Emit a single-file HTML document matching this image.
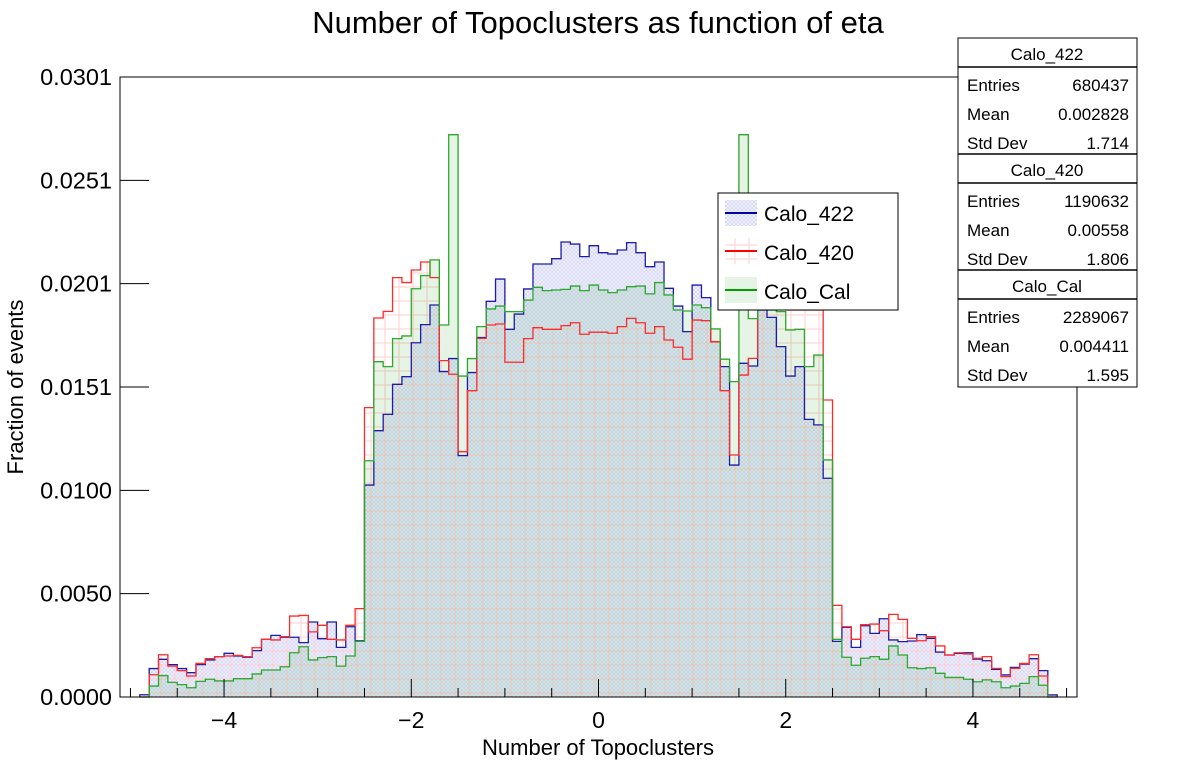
<!DOCTYPE html>
<html><head><meta charset="utf-8"><style>
body{margin:0;background:#fff;}
svg{display:block;font-family:"Liberation Sans",sans-serif;}
</style></head><body>
<svg id="c" width="1198" height="775" viewBox="0 0 1198 775">
<defs>
<pattern id="pb" width="4" height="4" patternUnits="userSpaceOnUse"><rect width="4" height="4" fill="#f4f4ff"/><path d="M0 0L4 4M4 0L0 4" stroke="#c8c8f4" stroke-width="0.6"/></pattern>
<pattern id="pr" width="14" height="14" patternUnits="userSpaceOnUse"><path d="M7 0V14M0 7H14" stroke="#ffcfcf" stroke-width="1"/></pattern>
</defs>
<text x="598" y="33" font-size="31" text-anchor="middle">Number of Topoclusters as function of eta</text>
<text x="598" y="755" font-size="22" text-anchor="middle">Number of Topoclusters</text>
<text transform="translate(23,387) rotate(-90)" font-size="22" text-anchor="middle">Fraction of events</text>
<g id="plot"></g>
<g id="axes"></g>
<g>
<rect x="718" y="193" width="180" height="117" fill="#fff" stroke="#000" stroke-width="1"/>
<rect x="725" y="200" width="32" height="26" fill="url(#pb)"/><line x1="725" y1="213" x2="757" y2="213" stroke="#00009c" stroke-width="2"/>
<text x="764" y="221" font-size="21">Calo_422</text>
<rect x="725" y="238" width="32" height="26" fill="url(#pr)"/><line x1="725" y1="251" x2="757" y2="251" stroke="#ff0000" stroke-width="2"/>
<text x="764" y="260" font-size="21">Calo_420</text>
<rect x="725" y="277" width="32" height="26" fill="#e6f4e6"/><line x1="725" y1="290" x2="757" y2="290" stroke="#00a000" stroke-width="2"/>
<text x="764" y="299" font-size="21">Calo_Cal</text>
</g>
<g id="stats"></g>
</svg>
<script>
const xMin=-4.9, binW=0.1;
const blueVals=[0.00011,0.00138,0.00183,0.00157,0.00138,0.00118,0.00157,0.00180,0.00196,0.00212,0.00199,0.00193,0.00225,0.00280,0.00299,0.00290,0.00290,0.00264,0.00364,0.00283,0.00364,0.00241,0.00341,0.00273,
0.01029,0.01293,0.01372,0.01518,0.01555,0.01720,0.01808,0.01903,0.01580,0.01643,0.01172,0.01575,0.01745,0.01921,0.02029,0.01785,0.01859,0.01981,0.02102,0.02102,0.02128,0.02209,0.02199,0.02138,0.02191,
0.02157,0.02151,0.02170,0.02206,0.02157,0.02089,0.02112,0.01984,0.01898,0.01774,0.02000,0.01939,0.01725,0.01604,0.01126,0.01620,0.01607,0.01879,0.01843,0.01701,0.01558,0.01604,0.01348,0.01321,0.01062,
0.00270,0.00338,0.00241,0.00346,0.00309,0.00380,0.00277,0.00269,0.00272,0.00303,0.00285,0.00218,0.00204,0.00212,0.00215,0.00184,0.00176,0.00134,0.00107,0.00144,0.00160,0.00186,0.00128,0.0001];
const redVals=[0,0.00108,0.00205,0.00150,0.00128,0.00102,0.00163,0.00186,0.00196,0.00199,0.00202,0.00196,0.00239,0.00280,0.00277,0.00293,0.00393,0.00396,0.00316,0.00348,0.00280,0.00277,0.00348,0.00429,
0.01405,0.01840,0.01872,0.02036,0.02012,0.02073,0.02112,0.02036,0.01633,0.01567,0.01191,0.01487,0.01741,0.01806,0.01811,0.01625,0.01625,0.01740,0.01793,0.01785,0.01785,0.01803,0.01817,0.01761,0.01771,
0.01771,0.01766,0.01798,0.01838,0.01817,0.01766,0.01798,0.01733,0.01698,0.01640,0.01830,0.01827,0.01725,0.01487,0.01175,0.01563,0.01644,0.01944,0.01895,0.01887,0.01879,0.01879,0.01879,0.01879,0.01442,
0.00445,0.00341,0.00280,0.00351,0.00354,0.00322,0.00401,0.00377,0.00285,0.00273,0.00293,0.00248,0.00204,0.00215,0.00209,0.00188,0.00196,0.00139,0.00099,0.00139,0.00163,0.00205,0.00102,0];
const greenVals=[0,0.00053,0.00104,0.00071,0.00060,0.00045,0.00076,0.00086,0.00078,0.00078,0.00089,0.00089,0.00112,0.00131,0.00131,0.00147,0.00215,0.00244,0.00180,0.00191,0.00196,0.00150,0.00199,0.00270,
0.01147,0.01628,0.01604,0.01740,0.01753,0.01982,0.02046,0.02122,0.01806,0.0273,0.01558,0.01643,0.01798,0.01884,0.01898,0.01871,0.01871,0.01927,0.01989,0.01973,0.01976,0.01979,0.01995,0.01973,0.02000,
0.01976,0.01963,0.01976,0.01992,0.01995,0.01957,0.02012,0.01952,0.01879,0.01874,0.01903,0.01890,0.01787,0.01640,0.01531,0.0273,0.01837,0.01895,0.01879,0.01871,0.01782,0.01785,0.01604,0.01660,0.01151,
0.00280,0.00193,0.00154,0.00188,0.00196,0.00183,0.00248,0.00204,0.00142,0.00138,0.00142,0.00115,0.00095,0.00095,0.00086,0.00074,0.00083,0.00074,0.00045,0.00053,0.00066,0.00099,0.00057,0];
const xTicks=[-4,-2,0,2,4];
const yTicks=[0,0.00502,0.01003,0.01505,0.02007,0.02508,0.0301];
const yTickLabels=["0.0000","0.0050","0.0100","0.0151","0.0201","0.0251","0.0301"];

const L=120,R=1077,T=77,B=697, X0=-5.1115, X1=5.1115, YMAX=0.0301;
const sx=v=>L+(v-X0)/(X1-X0)*(R-L);
const sy=v=>B-v/YMAX*(B-T);
const NS="http://www.w3.org/2000/svg";
const plot=document.getElementById('plot'), axes=document.getElementById('axes'), stats=document.getElementById('stats');
function mk(tag,attrs,parent){const e=document.createElementNS(NS,tag);for(const k in attrs)e.setAttribute(k,attrs[k]);parent.appendChild(e);return e;}
function stepPath(vals,closed){
  let d='M'+sx(xMin)+' '+sy(0);
  vals.forEach((v,i)=>{const a=sx(xMin+i*binW),b=sx(xMin+(i+1)*binW);d+=' L'+a+' '+sy(v)+' L'+b+' '+sy(v);});
  d+=' L'+sx(xMin+vals.length*binW)+' '+sy(0);
  if(closed)d+=' Z';
  return d;
}
mk('rect',{x:L,y:T,width:R-L,height:B-T,fill:'#fff',stroke:'none'},plot);
const series=[[blueVals,'url(#pb)','#1c1ca8','blue'],[redVals,'url(#pr)','#ff2a2a','red'],[greenVals,'rgba(0,150,0,0.1)','#2ca82c','green']];
series.forEach(s=>{
  const f=mk('path',{d:stepPath(s[0],true),fill:s[1],stroke:'none'},plot);
  
  
});
series.forEach(s=>{
  const l=mk('path',{d:stepPath(s[0],false),fill:'none',stroke:s[2],'stroke-width':1.3},plot);
  
  
});
const fr=mk('rect',{x:L,y:T,width:R-L,height:B-T,fill:'none',stroke:'#000','stroke-width':1},axes);


for(let v=-5;v<=5.001;v+=0.1){
  const major=Math.abs(v/2-Math.round(v/2))<1e-6, half=Math.abs(v*2-Math.round(v*2))<1e-6;
  const len=major?18:(half?9:0);
  if(len){mk('line',{x1:sx(v),y1:B,x2:sx(v),y2:B-len,stroke:'#000','stroke-width':1},axes);}
}
xTicks.forEach(v=>{
  const t=mk('text',{x:sx(v),y:728,'font-size':23,'text-anchor':'middle'},axes);
  t.textContent=(v<0?'\u2212':'')+Math.abs(v);
  
  
});
yTicks.forEach((v,i)=>{
  mk('line',{x1:L,y1:sy(v),x2:L+29,y2:sy(v),stroke:'#000','stroke-width':1},axes);
  const t=mk('text',{x:112,y:sy(v)+8,'font-size':23.5,'text-anchor':'end'},axes);
  t.textContent=yTickLabels[i];
  
  
});
const statNames=['Calo_422','Calo_420','Calo_Cal'];
const statEntries=['680437','1190632','2289067'];
const statMeans=['0.002828','0.00558','0.004411'];
const statStd=['1.714','1.806','1.595'];
mk('rect',{x:958,y:38,width:179,height:349,fill:'#fff',stroke:'#000','stroke-width':1},stats);
statNames.forEach((n,i)=>{
  const y0=38+i*116;
  if(i>0)mk('line',{x1:958,y1:y0,x2:1137,y2:y0,stroke:'#000','stroke-width':1.5},stats);
  mk('line',{x1:958,y1:y0+29,x2:1137,y2:y0+29,stroke:'#000','stroke-width':1.5},stats);
  const h=mk('text',{x:1047,y:y0+22,'font-size':17,'text-anchor':'middle'},stats);h.textContent=n;
  
  
  [['Entries',statEntries[i]],['Mean',statMeans[i]],['Std Dev',statStd[i]]].forEach((r,j)=>{
    const yy=y0+53+j*29;
    const a=mk('text',{x:967,y:yy,'font-size':17},stats);a.textContent=r[0];
    
    
    const b=mk('text',{x:1129,y:yy,'font-size':17,'text-anchor':'end'},stats);b.textContent=r[1];
    
    
  });
});
</script>
</body></html>
